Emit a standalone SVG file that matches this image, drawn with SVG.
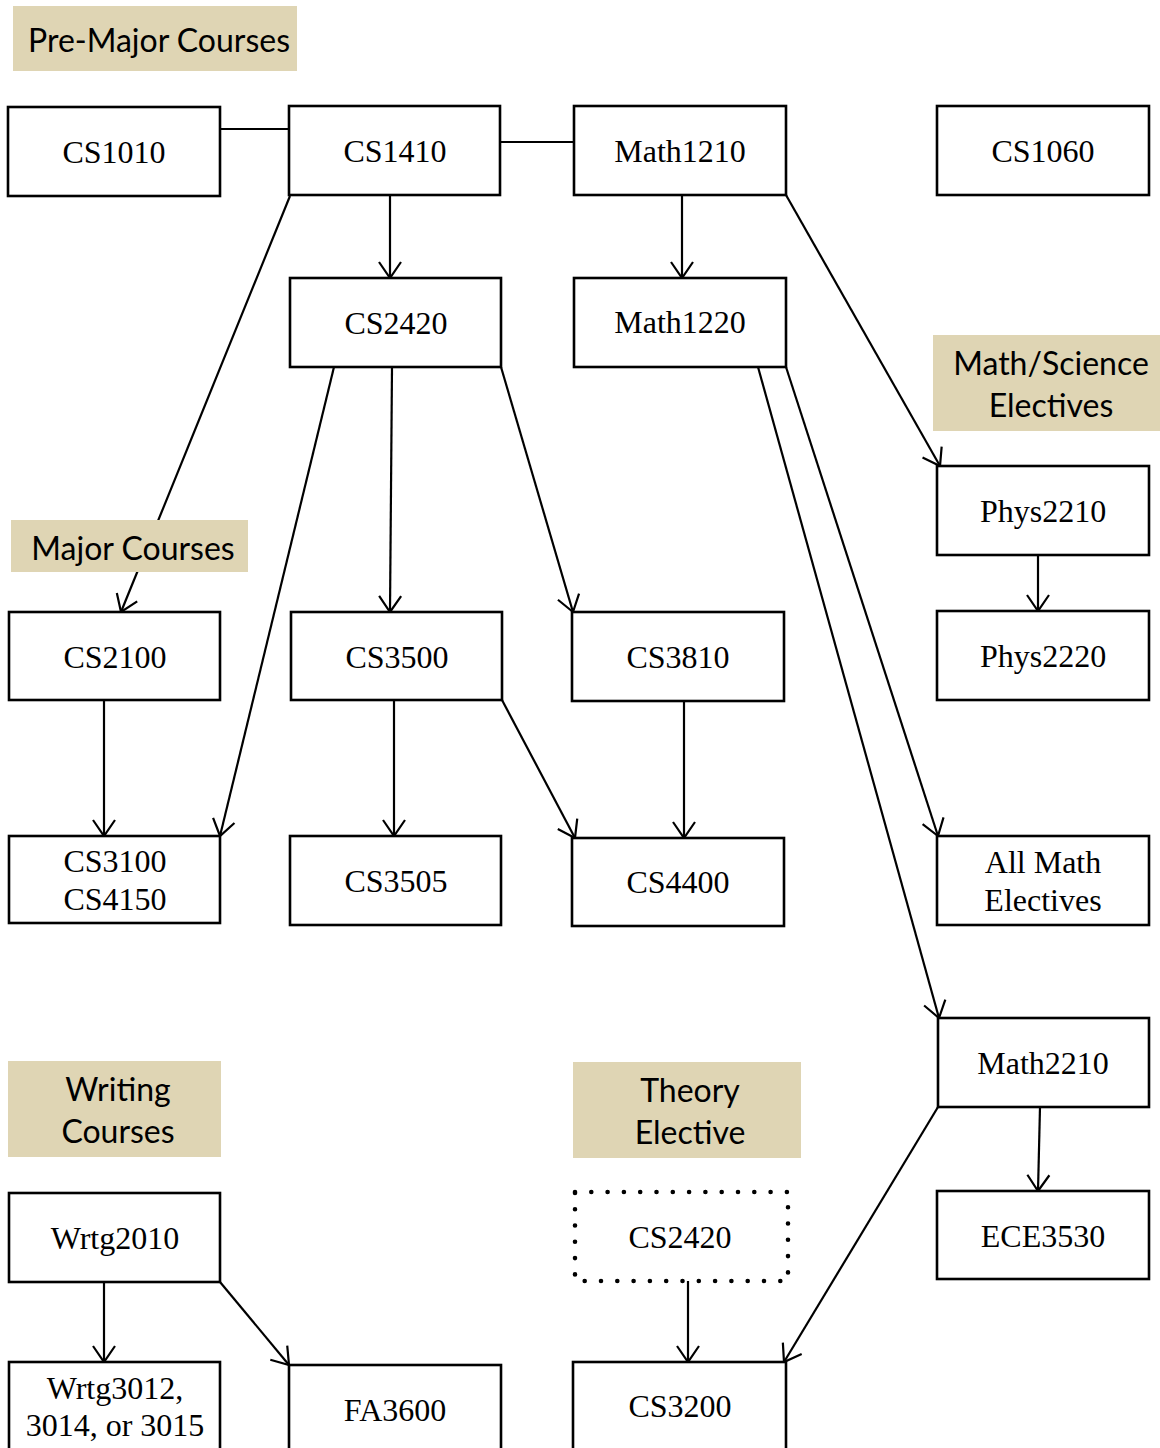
<svg xmlns="http://www.w3.org/2000/svg" width="1160" height="1448" viewBox="0 0 1160 1448">
<style>
.box{fill:#fff;stroke:#000;stroke-width:2.6}
.dot{fill:none;stroke:#000;stroke-width:4.6;stroke-linecap:round;stroke-dasharray:0 16.3}
.lab{fill:#dfd5b4}
.t{font-family:"Liberation Serif","Times New Roman",serif;font-size:32px;text-anchor:middle;fill:#000}
.l{font-family:Lato,"Noto Sans",sans-serif;font-size:32px;text-anchor:middle;fill:#000}
.c line{stroke:#000;stroke-width:2.2}
.a{marker-end:url(#arr)}
</style>
<defs>
<marker id="arr" markerUnits="userSpaceOnUse" markerWidth="40" markerHeight="40" viewBox="-20 -20 40 40" refX="0" refY="0" orient="auto">
<path d="M-16,-11 L0,0 L-16,11" fill="none" stroke="#000" stroke-width="2.2"/>
</marker>
</defs>
<rect width="1160" height="1448" fill="#fff"/>

<g id="connectors" class="c">
<line x1="220" y1="129" x2="289" y2="129"/>
<line x1="500" y1="142" x2="574" y2="142"/>
<line class="a" x1="390" y1="195" x2="390" y2="278"/>
<line class="a" x1="290" y1="196" x2="121" y2="612"/>
<line class="a" x1="682" y1="195" x2="682" y2="278"/>
<line class="a" x1="786" y1="195" x2="940" y2="466"/>
<line class="a" x1="334" y1="367" x2="220" y2="836"/>
<line class="a" x1="392" y1="367" x2="390" y2="612"/>
<line class="a" x1="501" y1="367" x2="573" y2="612"/>
<line class="a" x1="786" y1="367" x2="938" y2="836"/>
<line class="a" x1="758" y1="367" x2="939" y2="1018"/>
<line class="a" x1="1038" y1="555" x2="1038" y2="611"/>
<line class="a" x1="104" y1="700" x2="104" y2="836"/>
<line class="a" x1="394" y1="700" x2="394" y2="836"/>
<line class="a" x1="502" y1="700" x2="575" y2="838"/>
<line class="a" x1="684" y1="701" x2="684" y2="838"/>
<line class="a" x1="1040" y1="1107" x2="1038" y2="1191"/>
<line class="a" x1="938" y1="1107" x2="784" y2="1362"/>
<line class="a" x1="688" y1="1281" x2="688" y2="1362"/>
<line class="a" x1="104" y1="1282" x2="104" y2="1362"/>
<line class="a" x1="220" y1="1282" x2="289" y2="1365"/>
</g>

<g id="label-premajor"><rect class="lab" x="13" y="6" width="284" height="65"/><text class="l" x="159" y="52">Pre-Major Courses</text></g>
<g id="label-mathsci"><rect class="lab" x="933" y="335" width="227" height="96"/><text class="l" x="1051" y="375">Math/Science</text><text class="l" x="1051" y="417">Electives</text></g>
<g id="label-major"><rect class="lab" x="11" y="520" width="237" height="52"/><text class="l" x="133" y="560">Major Courses</text></g>
<g id="label-writing"><rect class="lab" x="8" y="1061" width="213" height="96"/><text class="l" x="118" y="1101">Writing</text><text class="l" x="118" y="1143">Courses</text></g>
<g id="label-theory"><rect class="lab" x="573" y="1062" width="228" height="96"/><text class="l" x="690" y="1102">Theory</text><text class="l" x="690" y="1144">Elective</text></g>

<g id="CS1010"><rect class="box" x="8" y="107" width="212" height="89"/><text class="t" x="114" y="163">CS1010</text></g>
<g id="CS1410"><rect class="box" x="289" y="106" width="211" height="89"/><text class="t" x="395" y="162">CS1410</text></g>
<g id="Math1210"><rect class="box" x="574" y="106" width="212" height="89"/><text class="t" x="680" y="162">Math1210</text></g>
<g id="CS1060"><rect class="box" x="937" y="106" width="212" height="89"/><text class="t" x="1043" y="162">CS1060</text></g>
<g id="CS2420"><rect class="box" x="290" y="278" width="211" height="89"/><text class="t" x="396" y="334">CS2420</text></g>
<g id="Math1220"><rect class="box" x="574" y="278" width="212" height="89"/><text class="t" x="680" y="333">Math1220</text></g>
<g id="Phys2210"><rect class="box" x="937" y="466" width="212" height="89"/><text class="t" x="1043" y="522">Phys2210</text></g>
<g id="Phys2220"><rect class="box" x="937" y="611" width="212" height="89"/><text class="t" x="1043" y="667">Phys2220</text></g>
<g id="CS2100"><rect class="box" x="9" y="612" width="211" height="88"/><text class="t" x="115" y="668">CS2100</text></g>
<g id="CS3500"><rect class="box" x="291" y="612" width="211" height="88"/><text class="t" x="397" y="668">CS3500</text></g>
<g id="CS3810"><rect class="box" x="572" y="612" width="212" height="89"/><text class="t" x="678" y="668">CS3810</text></g>
<g id="CS3100-CS4150"><rect class="box" x="9" y="836" width="211" height="87"/><text class="t" x="115" y="872">CS3100</text><text class="t" x="115" y="910">CS4150</text></g>
<g id="CS3505"><rect class="box" x="290" y="836" width="211" height="89"/><text class="t" x="396" y="892">CS3505</text></g>
<g id="CS4400"><rect class="box" x="572" y="838" width="212" height="88"/><text class="t" x="678" y="893">CS4400</text></g>
<g id="AllMathElectives"><rect class="box" x="937" y="836" width="212" height="89"/><text class="t" x="1043" y="873">All Math</text><text class="t" x="1043" y="911">Electives</text></g>
<g id="Math2210"><rect class="box" x="938" y="1018" width="211" height="89"/><text class="t" x="1043" y="1074">Math2210</text></g>
<g id="ECE3530"><rect class="box" x="937" y="1191" width="212" height="88"/><text class="t" x="1043" y="1247">ECE3530</text></g>
<g id="CS2420-theory"><rect class="dot" x="575" y="1192" width="213" height="89"/><text class="t" x="680" y="1248">CS2420</text></g>
<g id="CS3200"><rect class="box" x="573" y="1362" width="213" height="100"/><text class="t" x="680" y="1417">CS3200</text></g>
<g id="Wrtg2010"><rect class="box" x="9" y="1193" width="211" height="89"/><text class="t" x="115" y="1249">Wrtg2010</text></g>
<g id="Wrtg3012"><rect class="box" x="9" y="1362" width="211" height="100"/><text class="t" x="115" y="1399">Wrtg3012,</text><text class="t" x="115" y="1436">3014, or 3015</text></g>
<g id="FA3600"><rect class="box" x="289" y="1365" width="212" height="100"/><text class="t" x="395" y="1421">FA3600</text></g>
</svg>
